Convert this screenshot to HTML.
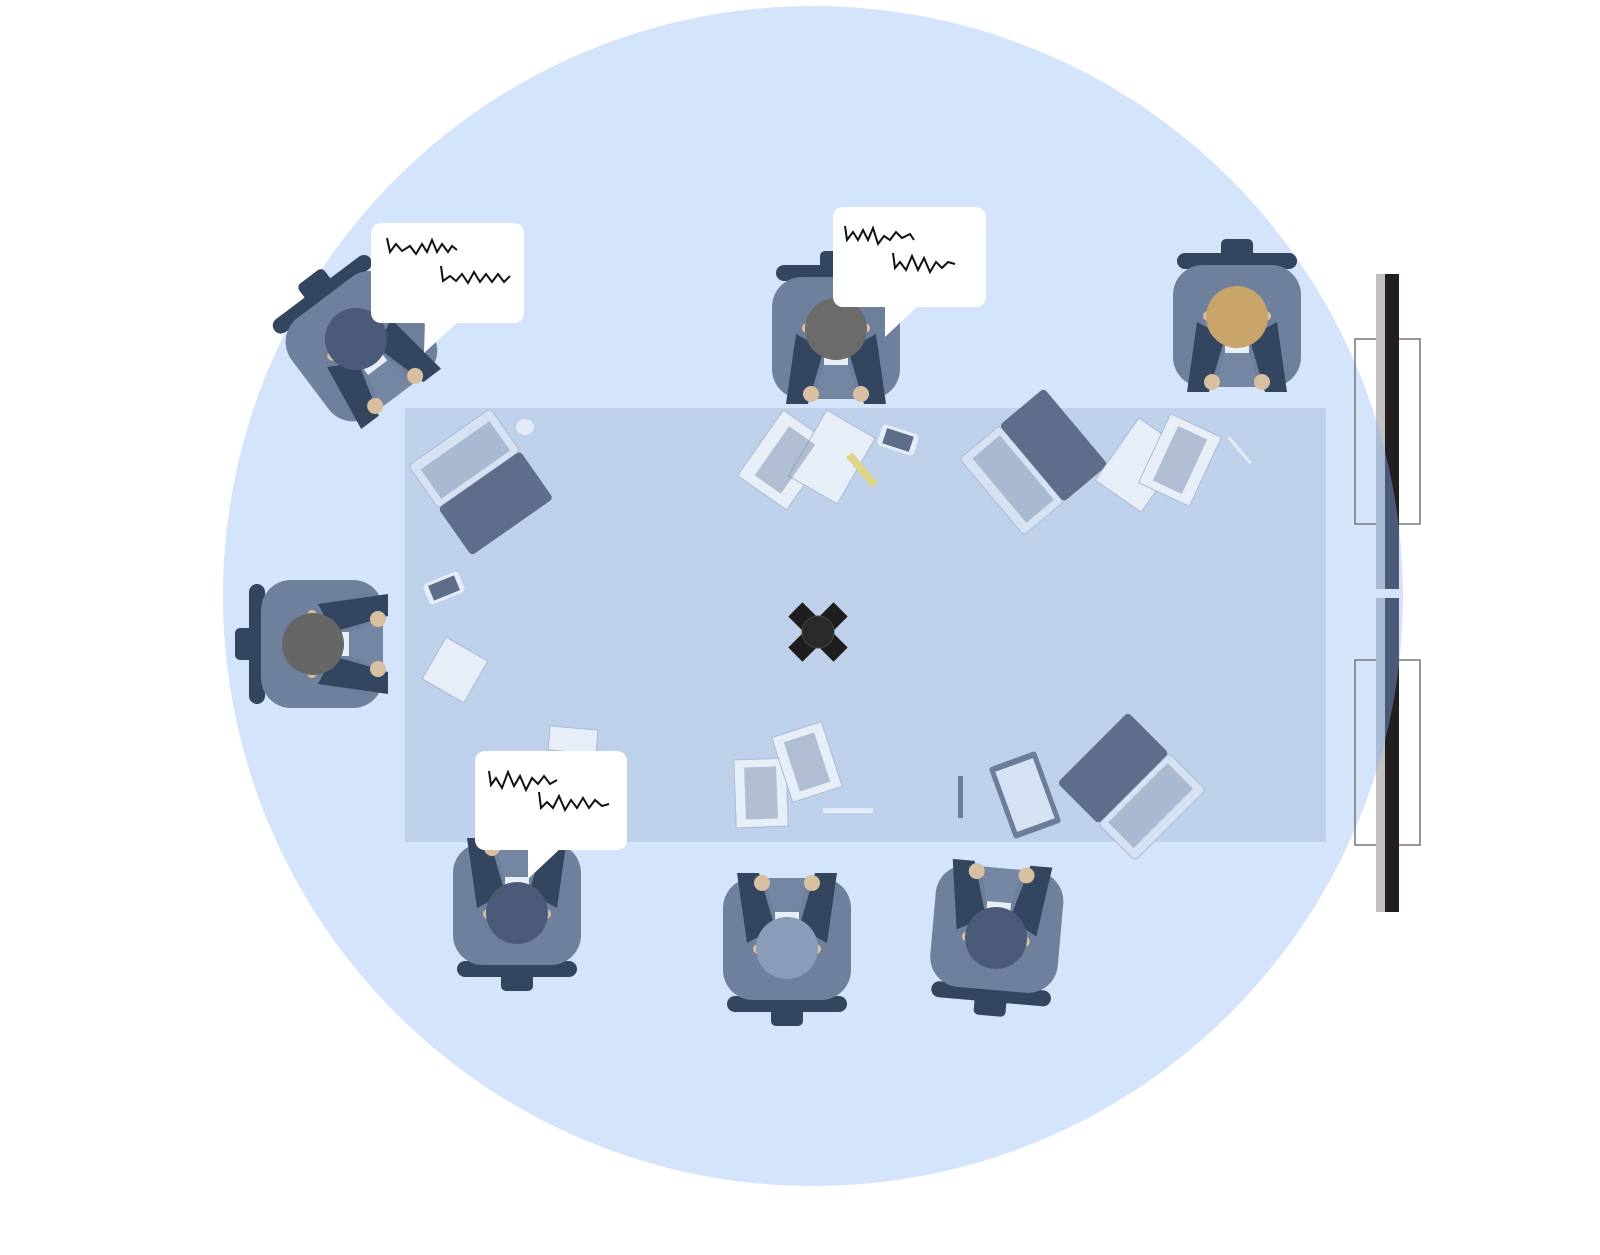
<!DOCTYPE html>
<html><head><meta charset="utf-8"><style>html,body{margin:0;padding:0;background:#fff}svg{display:block}</style></head>
<body>
<svg width="1600" height="1255" viewBox="0 0 1600 1255" xmlns="http://www.w3.org/2000/svg">
<defs>
<g id="p">
  <rect x="-60" y="48" width="120" height="16" rx="8" fill="#34465f"/>
  <rect x="-16" y="58" width="32" height="20" rx="5" fill="#34465f"/>
  <rect x="-64" y="-70" width="128" height="122" rx="30" fill="#6f809c"/>
  <path d="M-50,-75 L-28,-75 L-12,-20 L-40,-5 Z" fill="#34465f"/>
  <path d="M50,-75 L28,-75 L12,-20 L40,-5 Z" fill="#34465f"/>
  <path d="M-22,-70 L22,-70 L10,-28 L-10,-28 Z" fill="#7586a2"/>
  <rect x="-12" y="-36" width="24" height="8" fill="#e8eef8"/>
  <circle cx="-25" cy="-65" r="8" fill="#d8bfa0"/>
  <circle cx="25" cy="-65" r="8" fill="#d8bfa0"/>
  <rect x="-34" y="-4" width="68" height="10" rx="5" fill="#d8bfa0"/>
</g>
<clipPath id="cc"><circle cx="813" cy="596" r="590"/></clipPath>
</defs>
<circle cx="813" cy="596" r="590" fill="#d4e4fa"/>
<g transform="translate(356,339) rotate(143)"><use href="#p"/><circle r="31" fill="#4a5a78"/></g>
<g transform="translate(836,329) rotate(180)"><use href="#p"/><circle r="31" fill="#6b6b6b"/></g>
<g transform="translate(1237,317) rotate(180)"><use href="#p"/><circle r="31" fill="#c8a46a"/></g>
<g transform="translate(313,644) rotate(90)"><use href="#p"/><circle r="31" fill="#666"/></g>
<rect x="405" y="408" width="921" height="434" fill="#bfd1ea"/>
<g transform="translate(517,913)"><use href="#p"/><circle r="31" fill="#4a5a78"/></g>
<g transform="translate(787,948)"><use href="#p"/><circle r="31" fill="#8a9cb8"/></g>
<g transform="translate(996,938) rotate(5)"><use href="#p"/><circle r="31" fill="#4a5a78"/></g>
<g transform="translate(478,478) rotate(-35)">
  <rect x="-50" y="-50" width="100" height="52" rx="4" fill="#d6e2f4" stroke="#a9bbd5"/>
  <rect x="-42" y="-40" width="84" height="36" fill="#a9b9d2"/>
  <rect x="-50" y="2" width="100" height="58" rx="4" fill="#5d6d8a"/>
</g>
<ellipse cx="525" cy="427" rx="9" ry="8" fill="#e3ebf7"/>
<g transform="translate(1030,465) rotate(-130)">
  <rect x="-50" y="-50" width="100" height="52" rx="4" fill="#d6e2f4" stroke="#a9bbd5"/>
  <rect x="-42" y="-40" width="84" height="36" fill="#a9b9d2"/>
  <rect x="-50" y="2" width="100" height="58" rx="4" fill="#5d6d8a"/>
</g>
<g transform="translate(1135,790) rotate(135)">
  <rect x="-50" y="-50" width="100" height="52" rx="4" fill="#d6e2f4" stroke="#a9bbd5"/>
  <rect x="-42" y="-40" width="84" height="36" fill="#a9b9d2"/>
  <rect x="-50" y="2" width="100" height="58" rx="4" fill="#5d6d8a"/>
</g>
<g fill="#e8eef8" stroke="#a9bbd5">
  <rect x="-30" y="-40" width="60" height="80" transform="translate(785,460) rotate(35)"/>
  <rect x="-28" y="-38" width="56" height="76" transform="translate(832,457) rotate(30)"/>
  <rect x="-28" y="-38" width="56" height="76" transform="translate(1140,465) rotate(35)"/>
  <rect x="-28" y="-38" width="56" height="76" transform="translate(1180,460) rotate(25)"/>
  <rect x="-26" y="-34" width="52" height="68" transform="translate(761,793) rotate(-2)"/>
  <rect x="-26" y="-34" width="52" height="68" transform="translate(807,762) rotate(-18)"/>
  <rect x="-24" y="-24" width="48" height="48" transform="translate(455,670) rotate(30)"/>
  <rect x="-24" y="-12" width="48" height="24" transform="translate(573,740) rotate(5)"/>
</g>
<g fill="#7a8bab">
  <rect x="-16" y="-30" width="32" height="60" transform="translate(785,460) rotate(35)" opacity=".5"/>
  <rect x="-16" y="-30" width="32" height="60" transform="translate(1180,460) rotate(25)" opacity=".5"/>
  <rect x="-16" y="-26" width="32" height="52" transform="translate(761,793) rotate(-2)" opacity=".5"/>
  <rect x="-16" y="-26" width="32" height="52" transform="translate(807,762) rotate(-18)" opacity=".5"/>
</g>
<rect x="-4" y="-20" width="8" height="40" fill="#e0d488" transform="translate(862,470) rotate(-40)"/>
<g transform="translate(898,440) rotate(18)"><rect x="-19" y="-11" width="38" height="22" rx="4" fill="#e6edf8"/><rect x="-14" y="-8" width="28" height="16" fill="#5d6d8a"/></g>
<g transform="translate(444,588) rotate(-22)"><rect x="-19" y="-11" width="38" height="22" rx="4" fill="#e6edf8"/><rect x="-14" y="-8" width="28" height="16" fill="#5d6d8a"/></g>
<g transform="translate(1025,795) rotate(-20)"><rect x="-25" y="-38" width="50" height="76" rx="3" fill="#6c7d99"/><rect x="-20" y="-32" width="40" height="64" fill="#d6e2f4"/></g>
<rect x="958" y="776" width="5" height="42" fill="#6c7d99"/>
<rect x="1238" y="433" width="3" height="34" fill="#e3ebf7" transform="rotate(-40 1240 450)"/>
<rect x="823" y="808" width="50" height="5" fill="#e3ebf7"/>
<g transform="translate(818,632)" fill="#1e1e1e">
  <rect x="-32" y="-10" width="64" height="20" transform="rotate(45)"/>
  <rect x="-32" y="-10" width="64" height="20" transform="rotate(-45)"/>
  <circle r="16" fill="#2a2a2a" stroke="#444"/>
</g>
<g fill="#fff">
  <rect x="371" y="223" width="153" height="100" rx="10"/><path d="M425,320 L424,353 L460,320Z"/>
  <rect x="833" y="207" width="153" height="100" rx="10"/><path d="M885,304 L885,337 L920,304Z"/>
  <rect x="475" y="751" width="152" height="99" rx="10"/><path d="M528,847 L528,879 L562,847Z"/>
</g>
<g fill="none" stroke="#111" stroke-width="2">
  <polyline points="387,238 390,252 396,244 402,251 410,246 416,254 422,244 427,252 432,240 437,252 442,244 448,252 452,246 457,250"/>
  <polyline points="441,266 443,281 450,276 456,281 462,274 468,283 474,272 480,282 486,274 492,282 498,274 504,282 510,276"/>
  <polyline points="845,226 847,240 853,232 858,240 863,230 868,240 873,228 878,244 884,236 890,240 896,232 902,238 910,234 914,240"/>
  <polyline points="893,253 895,268 900,262 906,270 912,256 918,270 924,258 930,272 936,262 942,268 948,262 955,264"/>
  <polyline points="489,771 491,785 496,778 502,788 508,772 514,786 520,776 526,790 532,778 538,784 544,776 550,784 557,780"/>
  <polyline points="539,792 541,808 547,802 553,808 559,796 565,810 571,800 577,808 583,798 589,808 595,800 602,806 609,804"/>
</g>
<g fill="none" stroke="#777" stroke-width="1.5">
  <rect x="1355" y="339" width="65" height="185"/>
  <rect x="1355" y="660" width="65" height="185"/>
</g>
<rect x="1376" y="274" width="9" height="315" fill="#c0c0c0"/>
<rect x="1385" y="274" width="14" height="315" fill="#231f20"/>
<rect x="1376" y="598" width="9" height="314" fill="#c0c0c0"/>
<rect x="1385" y="598" width="14" height="314" fill="#231f20"/>
<g clip-path="url(#cc)">
  <rect x="1376" y="274" width="9" height="315" fill="#a9bbd5"/>
  <rect x="1385" y="274" width="14" height="315" fill="#4a5a78"/>
  <rect x="1376" y="598" width="9" height="314" fill="#a9bbd5"/>
  <rect x="1385" y="598" width="14" height="314" fill="#4a5a78"/>
</g>
</svg>
</body></html>
